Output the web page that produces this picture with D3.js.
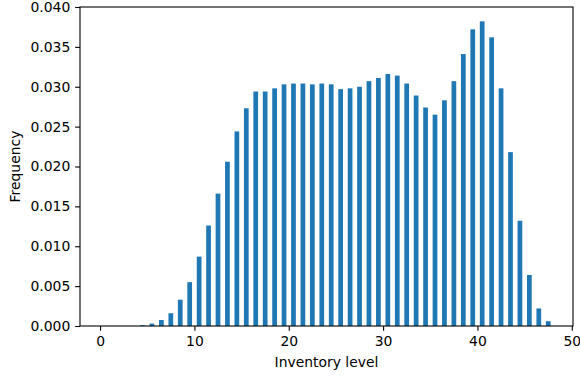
<!DOCTYPE html>
<html>
<head>
<meta charset="utf-8">
<script src="https://cdn.jsdelivr.net/npm/d3@7"></script>
<style>
  html, body { margin: 0; padding: 0; background: #fff; }
  svg { display: block; font-family: "DejaVu Sans", sans-serif; }
</style>
</head>
<body>
<svg id="chart" width="580" height="376"></svg>
<script>
// Histogram bins: bin i spans [i, i+1)
const binStarts = d3.range(0, 48);
const frequencies = [
  0, 0, 0, 0, 0.0001, 0.0003, 0.00075, 0.0016, 0.0033, 0.0055,
  0.0087, 0.0126, 0.0166, 0.0206, 0.0244, 0.0273, 0.0294, 0.0294, 0.0298, 0.0303,
  0.0304, 0.0304, 0.0303, 0.0304, 0.0303, 0.0297, 0.0298, 0.0300, 0.0307, 0.0311,
  0.0316, 0.0314, 0.0304, 0.0289, 0.0274, 0.0265, 0.0283, 0.0307, 0.0341, 0.0372,
  0.0382, 0.0362, 0.0298, 0.0218, 0.0132, 0.0064, 0.0022, 0.0006
];
const xTicks = [0, 10, 20, 30, 40, 50];
const yTicks = [0, 0.005, 0.010, 0.015, 0.020, 0.025, 0.030, 0.035, 0.040];
const xLabel = "Inventory level";
const yLabel = "Frequency";

const mLeft = 80, mRight = 573, mTop = 7, mBottom = 326;
const fs = 13.9;
const svg = d3.select("#chart");

const x = d3.scaleLinear().domain([-2.125, 50.125]).range([mLeft, mRight]);
const y = d3.scaleLinear().domain([0, 0.040]).range([mBottom, mTop]);

// bars (rwidth 0.5 centred in each bin)
svg.append("g").selectAll("rect")
  .data(binStarts.map((b, i) => ({b, v: frequencies[i]})))
  .join("rect")
  .attr("x", d => x(d.b + 0.25))
  .attr("width", d => x(d.b + 0.75) - x(d.b + 0.25))
  .attr("y", d => y(d.v))
  .attr("height", d => y(0) - y(d.v))
  .attr("fill", "#1f77b4");

// axes
const xAxis = d3.axisBottom(x).tickValues(xTicks).tickFormat(d3.format("d"))
  .tickSizeInner(4.86).tickSizeOuter(0).tickPadding(4.86);
const yAxis = d3.axisLeft(y).tickValues(yTicks).tickFormat(d3.format(".3f"))
  .tickSizeInner(4.86).tickSizeOuter(0).tickPadding(4.86);

const gx = svg.append("g").attr("transform", `translate(0,${mBottom})`).call(xAxis);
const gy = svg.append("g").attr("transform", `translate(${mLeft},0)`).call(yAxis);
[gx, gy].forEach(g => {
  g.select(".domain").remove();
  g.selectAll(".tick line").attr("stroke", "#000").attr("stroke-width", 1.1);
  g.selectAll(".tick text").attr("fill", "#000")
    .style("font-family", "DejaVu Sans").style("font-size", fs + "px");
});

// spines
svg.append("rect")
  .attr("x", mLeft).attr("y", mTop)
  .attr("width", mRight - mLeft).attr("height", mBottom - mTop)
  .attr("fill", "none").attr("stroke", "#000").attr("stroke-width", 1.1);

// labels
svg.append("text")
  .attr("x", (mLeft + mRight) / 2).attr("y", 367)
  .attr("text-anchor", "middle").attr("font-size", fs).attr("fill", "#000")
  .text(xLabel);
svg.append("text")
  .attr("transform", `translate(20,${(mTop + mBottom) / 2}) rotate(-90)`)
  .attr("text-anchor", "middle").attr("font-size", fs).attr("fill", "#000")
  .text(yLabel);
</script>
</body>
</html>
